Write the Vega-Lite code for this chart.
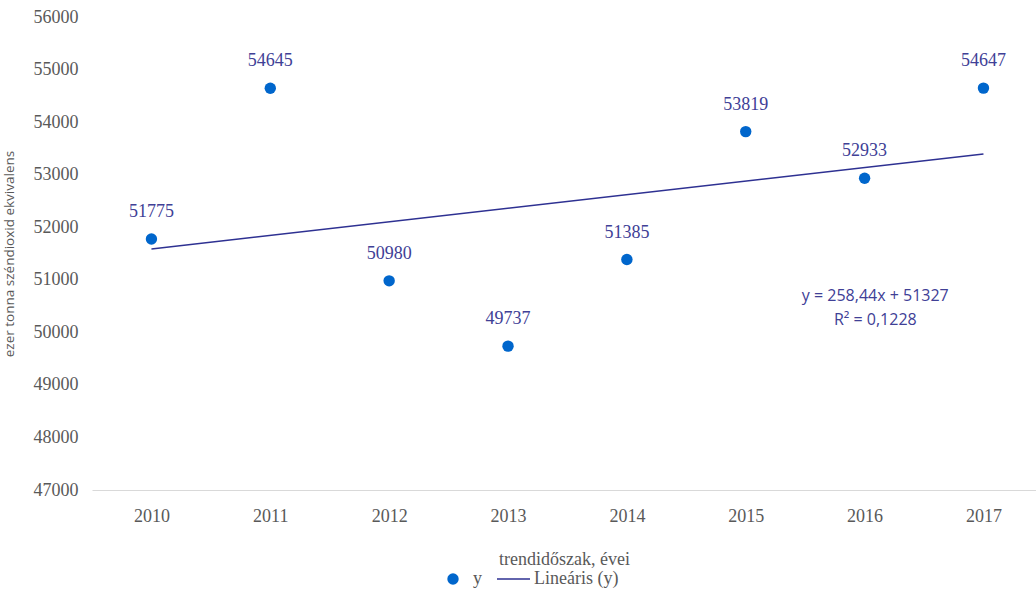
{
  "$schema": "https://vega.github.io/schema/vega-lite/v6.json",
  "autosize": {"type": "none"},
  "padding": {"left": 92, "top": 17, "right": 0, "bottom": 100},
  "width": 944,
  "height": 473,
  "background": "white",
  "config": {
    "view": {"stroke": null},
    "axis": {"labelFont": "Liberation Serif", "labelFontSize": 18, "labelColor": "#595959", "grid": false, "ticks": false, "titleColor": "#595959", "titleFontWeight": "normal"}
  },
  "data": {
    "values": [
      {"year": 2010, "y": 51775},
      {"year": 2011, "y": 54645},
      {"year": 2012, "y": 50980},
      {"year": 2013, "y": 49737},
      {"year": 2014, "y": 51385},
      {"year": 2015, "y": 53819},
      {"year": 2016, "y": 52933},
      {"year": 2017, "y": 54647}
    ]
  },
  "encoding": {
    "x": {
      "field": "year", "type": "quantitative",
      "scale": {"domain": [2009.5, 2017.442], "nice": false, "zero": false},
      "axis": {"values": [2010, 2011, 2012, 2013, 2014, 2015, 2016, 2017], "format": "d", "domainColor": "#D9D9D9", "domainWidth": 1, "labelPadding": 17, "title": "trendidőszak, évei", "titleFont": "Liberation Serif", "titleFontSize": 18, "titlePadding": 25}
    },
    "y": {
      "field": "y", "type": "quantitative",
      "scale": {"domain": [47000, 56000], "nice": false, "zero": false},
      "axis": {"values": [47000, 48000, 49000, 50000, 51000, 52000, 53000, 54000, 55000, 56000], "format": "d", "domain": false, "labelPadding": 14, "title": "ezer tonna  széndioxid ekvivalens", "titleFont": "Open Sans", "titleFontSize": 13.5, "titlePadding": 17}
    }
  },
  "layer": [
    {
      "transform": [{"regression": "y", "on": "year"}],
      "mark": {"type": "line", "strokeWidth": 1.5},
      "encoding": {
        "color": {
          "datum": "Lineáris (y)",
          "scale": {"domain": ["y", "Lineáris (y)"], "range": ["#0066CC", "#2E3192"]},
          "legend": {
            "orient": "none", "legendX": 345, "legendY": 553, "direction": "horizontal", "title": null, "padding": 0,
            "labelFont": "Liberation Serif", "labelFontSize": 18, "labelColor": "#595959", "labelOffset": 4,
            "symbolSize": 1089, "columnPadding": 12,
            "encode": {
              "symbols": {
                "update": {
                  "x": {"signal": "datum.value === 'y' ? 16 : 16.5"},
                  "shape": {"signal": "datum.value === 'y' ? 'circle' : 'stroke'"},
                  "size": {"signal": "datum.value === 'y' ? 130 : 1089"},
                  "strokeWidth": {"signal": "datum.value === 'y' ? 0 : 1.5"},
                  "fill": {"signal": "datum.value === 'y' ? '#0066CC' : 'transparent'"},
                  "stroke": {"signal": "datum.value === 'y' ? '#0066CC' : '#2E3192'"},
                  "opacity": {"value": 1}
                }
              },
              "labels": {
                "update": {
                  "x": {"signal": "datum.value === 'y' ? 36 : 37"}
                }
              }
            }
          }
        }
      }
    },
    {
      "mark": {"type": "point", "filled": true, "size": 130, "opacity": 1},
      "encoding": {"color": {"datum": "y"}}
    },
    {
      "mark": {"type": "text", "font": "Liberation Serif", "fontSize": 18, "color": "#404096", "dy": -27},
      "encoding": {"text": {"field": "y", "type": "quantitative", "format": "d"}}
    },
    {
      "data": {"values": [
        {"year": 2016.09, "y": 50692, "t": "y = 258,44x + 51327"},
        {"year": 2016.09, "y": 50235, "t": "R² = 0,1228"}
      ]},
      "mark": {"type": "text", "font": "Open Sans", "fontSize": 16, "color": "#404096"},
      "encoding": {"text": {"field": "t", "type": "nominal"}}
    }
  ]
}
